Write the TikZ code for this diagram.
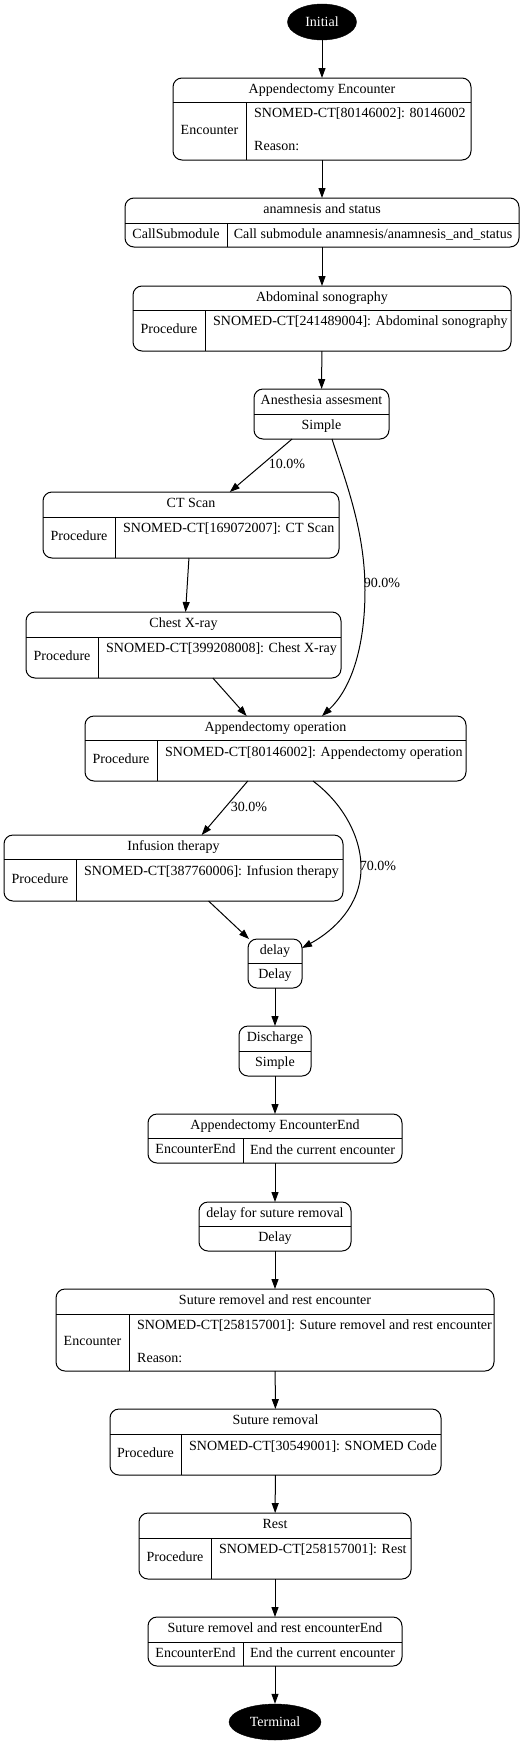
\documentclass[tikz,border=0pt]{standalone}
\usepackage{fontspec}
\setmainfont{Liberation Serif}
\usetikzlibrary{arrows.meta,calc,fit,shapes.geometric}
\tikzset{
  rec/.style={draw, line width=1bp, rounded corners=9bp, inner sep=0pt, outer sep=0pt},
  divl/.style={line width=1bp},
  txt/.style={inner sep=0pt, font=\fontsize{14bp}{16bp}\selectfont, text height=9.5bp, text depth=3bp},
  edge/.style={line width=1bp, -{Triangle[length=10bp,width=7bp]}},
  termnode/.style={ellipse, fill=black, draw=black, text=white, inner sep=0pt, font=\fontsize{14bp}{16bp}\selectfont},
}
% name,x1,y1,x2,y2,ydiv,xdiv,title,label
\newcommand\MyRecTwo[9]{%
  \node[rec, fit={(#2,#3) (#4,#5)}] (#1) {};
  \draw[divl] (#2,#6) -- (#4,#6);
  \draw[divl] (#7,#6) -- (#7,#5);
  \node[txt] (#1-t) at ({(#2+#4)/2},{(#3+#6)/2}) {#8};
  \node[txt] (#1-l) at ({(#2+#7)/2},{(#6+#5)/2}) {#9};
}
% name,x1,y1,x2,y2,ydiv,title,label
\newcommand\MyRecOne[8]{%
  \node[rec, fit={(#2,#3) (#4,#5)}] (#1) {};
  \draw[divl] (#2,#6) -- (#4,#6);
  \node[txt] (#1-t) at ({(#2+#4)/2},{(#3+#6)/2}) {#7};
  \node[txt] (#1-l) at ({(#2+#4)/2},{(#6+#5)/2}) {#8};
}
\begin{document}
\begin{tikzpicture}[x=1bp,y=-1bp]
\useasboundingbox (0,0) rectangle (528,1744);

\node[termnode, minimum width=69bp, minimum height=36bp] (ini) at (322,22) {Initial};

\MyRecTwo{enc}{173}{78}{471}{160}{102}{246}{Appendectomy Encounter}{Encounter}
\node[txt, anchor=west] (enc-c1) at (254,114) {SNOMED-CT[80146002]: 80146002};
\node[txt, anchor=west] (enc-c2) at (254,147) {Reason:};

\MyRecTwo{anam}{125}{198}{519}{247}{223}{227}{anamnesis and status}{CallSubmodule}
\node[txt] (anam-c) at (373,235) {Call submodule anamnesis/anamnesis\_and\_status};

\MyRecTwo{abd}{133}{286}{511}{351}{310}{205}{Abdominal sonography}{Procedure}
\node[txt, anchor=west] (abd-c) at (213,322) {SNOMED-CT[241489004]: Abdominal sonography};

\MyRecOne{anes}{254}{389}{389}{439}{414}{Anesthesia assesment}{Simple}

\MyRecTwo{ct}{43}{492}{339}{558}{517}{115}{CT Scan}{Procedure}
\node[txt, anchor=west] (ct-c) at (123,529) {SNOMED-CT[169072007]: CT Scan};

\MyRecTwo{chest}{26}{612}{341}{678}{637}{98}{Chest X-ray}{Procedure}
\node[txt, anchor=west] (chest-c) at (106,649) {SNOMED-CT[399208008]: Chest X-ray};

\MyRecTwo{appop}{85}{716}{466}{781}{740}{157}{Appendectomy operation}{Procedure}
\node[txt, anchor=west] (appop-c) at (165,753) {SNOMED-CT[80146002]: Appendectomy operation};

\MyRecTwo{inf}{4}{835}{343}{901}{859}{76}{Infusion therapy}{Procedure}
\node[txt, anchor=west] (inf-c) at (84,872) {SNOMED-CT[387760006]: Infusion therapy};

\MyRecOne{delay}{248}{939}{302}{988}{963}{delay}{Delay}

\MyRecOne{dis}{239}{1026}{311}{1076}{1051}{Discharge}{Simple}

\MyRecTwo{aee}{148}{1114}{402}{1163}{1138}{243}{Appendectomy EncounterEnd}{EncounterEnd}
\node[txt] (aee-c) at (322.5,1151) {End the current encounter};

\MyRecOne{dsr}{199}{1202}{351}{1251}{1226}{delay for suture removal}{Delay}

\MyRecTwo{senc}{56}{1289}{494}{1371}{1314}{129}{Suture removel and rest encounter}{Encounter}
\node[txt, anchor=west] (senc-c1) at (137,1326) {SNOMED-CT[258157001]: Suture removel and rest encounter};
\node[txt, anchor=west] (senc-c2) at (137,1359) {Reason:};

\MyRecTwo{sr}{110}{1409}{441}{1475}{1434}{181}{Suture removal}{Procedure}
\node[txt, anchor=west] (sr-c) at (189,1447) {SNOMED-CT[30549001]: SNOMED Code};

\MyRecTwo{rest}{139}{1513}{411}{1579}{1538}{211}{Rest}{Procedure}
\node[txt, anchor=west] (rest-c) at (219,1550) {SNOMED-CT[258157001]: Rest};

\MyRecTwo{see}{148}{1617}{402}{1666}{1642}{243}{Suture removel and rest encounterEnd}{EncounterEnd}
\node[txt] (see-c) at (322.5,1654) {End the current encounter};

\node[termnode, minimum width=92bp, minimum height=36bp] (term) at (275,1722) {Terminal};

% edges
\draw[edge] (ini) -- (enc);
\draw[edge] (enc) -- (anam);
\draw[edge] (anam) -- (abd);
\draw[edge] (abd) -- (anes);
\draw[edge] (anes) -- (ct);
\draw[edge] ($(anes.south)+(10.5,0)$) .. controls (345,480) and (365,530) .. (365,590) .. controls (365,650) and (350,690) .. ($(appop.north)+(46.5,0)$);
\draw[edge] (ct) -- (chest);
\draw[edge] (chest) -- (appop);
\draw[edge] (appop) -- (inf);
\draw[edge] ($(appop.south)+(37.5,0)$) .. controls (345,805) and (362,840) .. (361,870) .. controls (360,905) and (335,930) .. ($(delay.north east)+(0,9)$);
\draw[edge] (inf) -- (delay);
\draw[edge] (delay) -- (dis);
\draw[edge] (dis) -- (aee);
\draw[edge] (aee) -- (dsr);
\draw[edge] (dsr) -- (senc);
\draw[edge] (senc) -- (sr);
\draw[edge] (sr) -- (rest);
\draw[edge] (rest) -- (see);
\draw[edge] (see) -- (term);

% edge labels
\node[txt] (l10) at (287,465) {10.0\%};
\node[txt] (l90) at (382,584) {90.0\%};
\node[txt] (l30) at (249,808) {30.0\%};
\node[txt] (l70) at (378,867) {70.0\%};
\end{tikzpicture}
\end{document}
